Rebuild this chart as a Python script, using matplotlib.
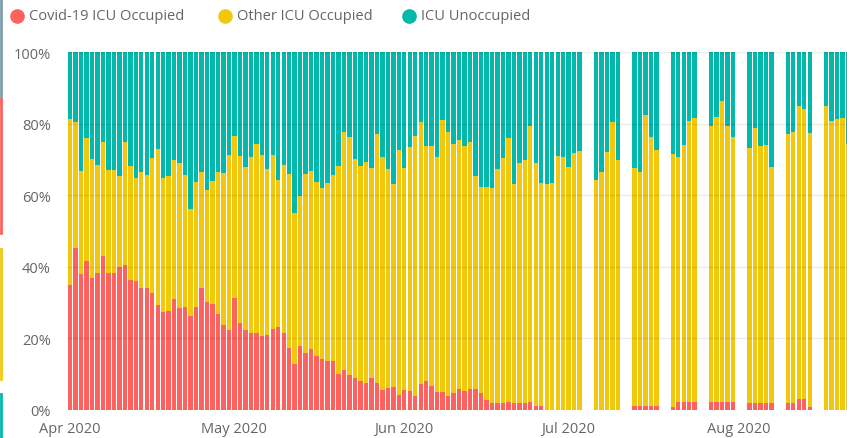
import matplotlib
matplotlib.use('Agg')
import matplotlib.pyplot as plt
import matplotlib.dates as mdates
from matplotlib.lines import Line2D
import numpy as np
import pandas as pd

# daily until 3 Jul, weekdays only afterwards
dates = pd.date_range('2020-04-01', '2020-07-03').append(
    pd.bdate_range('2020-07-06', '2020-08-21'))

covid = [35.0, 45.2, 37.9, 41.5, 36.9, 38.2, 43.0, 38.2, 38.2, 39.8, 40.5, 36.4,
         35.9, 34.0, 34.0, 32.6, 29.3, 27.2, 27.5, 30.9, 28.4, 28.8, 26.3,
         28.8, 34.0, 30.0, 29.5, 26.7, 23.7, 22.3, 31.2, 24.3, 22.3, 21.6, 21.4,
         20.7, 20.9, 22.6, 23.2, 21.4, 17.3, 12.8, 17.7, 15.9, 17.0, 15.1, 14.2,
         13.7, 13.7, 10.0, 11.1, 9.8, 8.8, 8.1, 7.6, 8.9, 7.6, 5.6, 6.0,
         6.3, 4.2, 5.6, 5.1, 3.9, 7.2, 7.9, 6.7, 4.9, 4.9, 3.7, 4.7,
         5.8, 5.3, 5.8, 5.8, 4.7, 2.6, 1.9, 1.9, 1.9, 2.1, 1.9, 1.9,
         1.9, 2.1, 0.9, 0.9, 0, 0, 0, 0, 0, 0, 0,
         0, 0, 0, 0, 0,
         0.9, 0.9, 0.9, 0.9, 0.9,
         0.8, 2.1, 2.1, 2.1, 2.1,
         2.1, 2.1, 2.1, 2.1, 2.1,
         2.0, 2.0, 2.0, 2.0, 2.0,
         1.9, 1.9, 3.0, 3.0, 0.8,
         0, 0, 0, 0, 0]

other = [46.3, 35.2, 29.0, 34.5, 33.2, 30.2, 32.0, 29.0, 29.0, 25.5, 34.5, 31.8,
         28.8, 32.5, 31.7, 37.8, 43.6, 37.7, 38.0, 39.0, 40.6, 37.0, 29.9,
         34.8, 32.4, 31.6, 34.4, 39.7, 42.5, 49.0, 45.3, 46.8, 45.6, 49.0, 52.9,
         50.7, 46.5, 48.7, 41.2, 47.2, 48.7, 42.2, 42.2, 50.1, 49.9, 48.7, 47.7,
         49.6, 52.0, 58.1, 66.5, 66.6, 61.3, 60.0, 61.6, 58.6, 69.5, 65.0, 61.4,
         56.9, 68.6, 61.9, 68.3, 72.6, 73.2, 66.0, 67.2, 65.7, 76.2, 73.9, 69.6,
         69.8, 68.4, 69.2, 59.5, 57.5, 59.8, 60.0, 65.5, 68.4, 73.9, 61.3, 67.0,
         68.0, 77.4, 68.0, 62.5, 63.2, 63.5, 70.9, 70.6, 67.8, 71.7, 72.5,
         64.3, 66.6, 72.0, 80.4, 70.0,
         66.7, 65.7, 81.6, 75.5, 71.9,
         70.7, 68.5, 72.1, 78.8, 79.5,
         77.2, 79.7, 84.2, 77.4, 74.1,
         71.2, 76.7, 71.7, 72.2, 66.0,
         75.2, 75.9, 81.9, 81.1, 76.5,
         85.1, 80.7, 81.2, 81.6, 74.3]

unoccupied = [18.7, 19.6, 33.1, 24.0, 29.9, 31.6, 25.0, 32.8, 32.8, 34.7, 25.0, 31.8,
              35.3, 33.5, 34.3, 29.6, 27.1, 35.1, 34.5, 30.1, 31.0, 34.2, 43.8,
              36.4, 33.6, 38.4, 36.1, 33.6, 33.8, 28.7, 23.5, 28.9, 32.1, 29.4, 25.7,
              28.6, 32.6, 28.7, 35.6, 31.4, 34.0, 45.0, 40.1, 34.0, 33.1, 36.2, 38.1,
              36.7, 34.3, 31.9, 22.4, 23.6, 29.9, 31.9, 30.8, 32.5, 22.9, 29.4, 32.6,
              36.8, 27.2, 32.5, 26.6, 23.5, 19.6, 26.1, 26.1, 29.4, 18.9, 22.4, 25.7,
              24.4, 26.3, 25.0, 34.7, 37.8, 37.6, 38.1, 32.6, 29.7, 24.0, 36.8, 31.1,
              30.1, 20.5, 31.1, 36.6, 36.8, 36.5, 29.1, 29.4, 32.2, 28.3, 27.5,
              35.7, 33.4, 28.0, 19.6, 30.0,
              32.4, 33.4, 17.5, 23.6, 27.2,
              28.5, 29.4, 25.8, 19.1, 18.4,
              20.7, 18.2, 13.7, 20.5, 23.8,
              26.8, 21.3, 26.3, 25.8, 32.0,
              22.9, 22.2, 15.1, 15.9, 22.7,
              14.9, 19.3, 18.8, 18.4, 25.7]

series = ['Covid-19 ICU Occupied', 'Other ICU Occupied', 'ICU Unoccupied']
colors = ['#FD625E', '#F2C80F', '#01B8AA']

plt.rcParams['font.family'] = ['Open Sans', 'DejaVu Sans']
GREY = '#666666'

W, H = 847, 439
fig = plt.figure(figsize=(W / 100, H / 100), dpi=100)
ax = fig.add_axes([67.3 / W, (H - 410.7) / H, (W - 67.3) / W, (410.7 - 53.3) / H])

x = mdates.date2num(dates)
vals = np.array([covid, other, unoccupied], dtype=float)
shares = vals / vals.sum(axis=0) * 100

bottom = np.zeros(len(x))
for s, c, lab in zip(shares, colors, series):
    ax.bar(x, s, bottom=bottom, width=0.8, color=c, linewidth=0, label=lab, zorder=2)
    bottom += s

for yv in range(0, 101, 20):
    ax.axhline(yv, color='k', alpha=0.08, lw=1, zorder=3)

ax.set_ylim(0, 100)
ax.set_xlim(x[0] - 0.5, x[0] + 141.8)
ax.set_yticks(range(0, 101, 20))
ax.set_yticklabels([f'{v}%' for v in range(0, 101, 20)])
months = mdates.date2num(pd.to_datetime(['2020-04-01', '2020-05-01', '2020-06-01',
                                         '2020-07-01', '2020-08-01']))
ax.set_xticks(months)
ax.set_xticklabels(['Apr 2020', 'May 2020', 'Jun 2020', 'Jul 2020', 'Aug 2020'])
ax.tick_params(axis='y', length=0, pad=12, labelsize=10.5, labelcolor=GREY)
ax.tick_params(axis='x', length=0, pad=8, labelsize=10.5, labelcolor=GREY)
for sp in ax.spines.values():
    sp.set_visible(False)

# legend row along the top
leg_x = [(17, 29), (225, 237), (409, 421)]
for (cx, tx), c, lab in zip(leg_x, colors, series):
    fig.add_artist(Line2D([cx / W], [1 - 17 / H], marker='o', markersize=9.5,
                          color=c, transform=fig.transFigure))
    fig.text(tx / W, 1 - 17 / H, lab, ha='left', va='center', fontsize=10.5, color=GREY)

# thin coloured strip on the left border
for y0, y1, c in [(0, 98, '#7f9fae'), (100, 234, '#FD625E'),
                  (250, 380, '#F2C80F'), (395, 439, '#01B8AA')]:
    fig.add_artist(Line2D([1 / W, 1 / W], [1 - y0 / H, 1 - y1 / H], lw=2, color=c,
                          transform=fig.transFigure))

fig.savefig('out.png', dpi=100)
